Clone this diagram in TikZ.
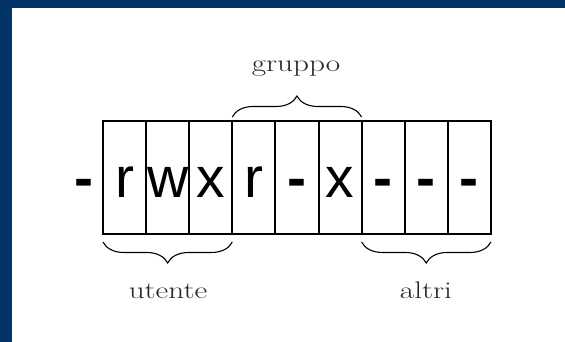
\documentclass[tikz,border=0pt]{standalone}
\usepackage{fontspec}
\newfontfamily\cellfont{Liberation Sans}
\usepackage{tikz}
\usetikzlibrary{positioning,decorations.pathreplacing}
\definecolor{frameblue}{RGB}{2,52,102}

\tikzset{
  cell/.style={draw, line width=2pt, outer sep=0pt, inner sep=0pt,
    minimum width=43.1pt, minimum height=113pt,
    text height=39pt, text depth=0pt,
    font=\cellfont\fontsize{57}{60}\selectfont},
  bit/.style={inner sep=0pt, text height=39pt, text depth=0pt,
    font=\cellfont\fontsize{57}{60}\selectfont},
  blank/.style={font=\cellfont\bfseries\fontsize{57}{60}\selectfont},
  curly/.style={decorate, decoration={brace, amplitude=21pt}, line width=1.1pt},
  lab/.style={inner sep=0pt, anchor=base, text=black!85,
    font=\fontsize{24}{26}\selectfont}
}

\begin{document}
\begin{tikzpicture}[x=1pt, y=-1pt]
% Drawing frame
\fill[white] (0,0) rectangle (565,342);
\fill[frameblue] (0,0) rectangle (12,342);
\fill[frameblue] (0,0) rectangle (565,8);

% Drawing permission cells
\node[bit, blank] (type) at (84,177.5) {-};
\node[cell] (c1) at (124.55,177.5) {r};
\node[cell, right=0pt of c1] (c2) {w};
\node[cell, right=0pt of c2] (c3) {x};
\node[cell, right=0pt of c3] (c4) {r};
\node[cell, blank, right=0pt of c4] (c5) {-};
\node[cell, right=0pt of c5] (c6) {x};
\node[cell, blank, right=0pt of c6] (c7) {-};
\node[cell, blank, right=0pt of c7] (c8) {-};
\node[cell, blank, right=0pt of c8] (c9) {-};

% Drawing braces
\draw[curly] ([yshift=4pt]c4.north west) -- ([yshift=4pt]c6.north east);
\draw[curly] ([yshift=-8pt]c3.south east) -- ([yshift=-8pt]c1.south west);
\draw[curly] ([yshift=-8pt]c9.south east) -- ([yshift=-8pt]c7.south west);

% Drawing labels
\node[lab] (gruppo) at (296,72) {\scalebox{1.3}[1]{gruppo}};
\node[lab] (utente) at (168,298) {\scalebox{1.3}[1]{utente}};
\node[lab] (altri) at (426,298) {\scalebox{1.3}[1]{altri}};
\end{tikzpicture}
\end{document}
